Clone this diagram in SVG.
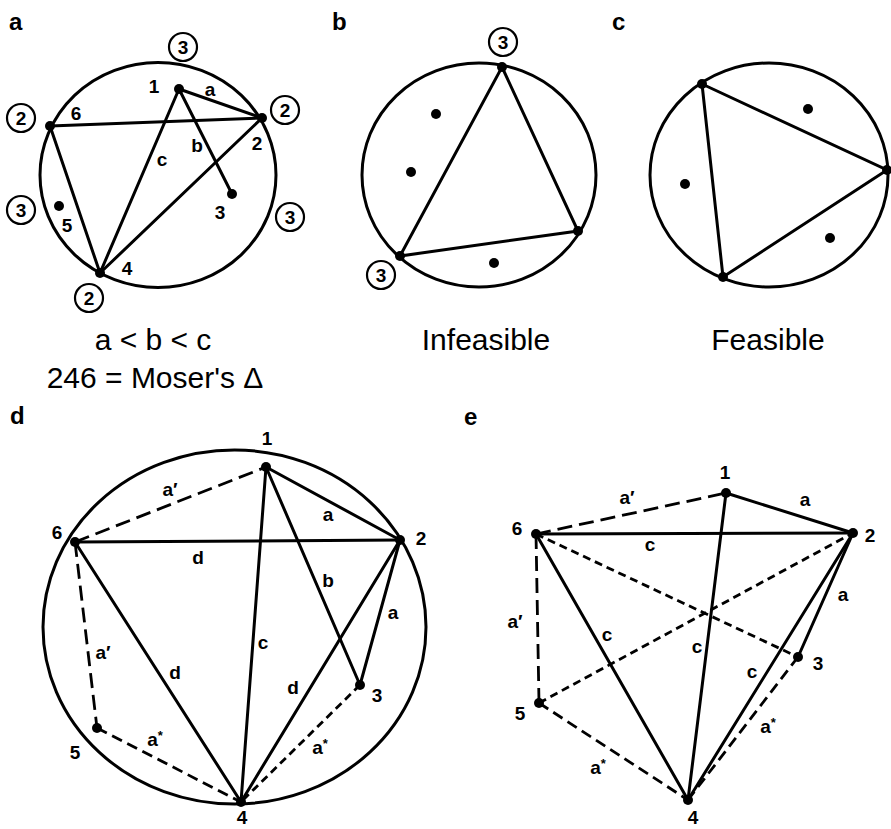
<svg xmlns="http://www.w3.org/2000/svg" width="891" height="829" viewBox="0 0 891 829">
<style>
.bg{fill:#fff}
.ring{fill:none;stroke:#000;stroke-width:3}
.e{stroke:#000;stroke-width:3;fill:none;stroke-linecap:round}
.dl{stroke:#000;stroke-width:2.8;fill:none;stroke-dasharray:15 7}
.dm{stroke:#000;stroke-width:2.8;fill:none;stroke-dasharray:11 6}
.ds{stroke:#000;stroke-width:2.8;fill:none;stroke-dasharray:8 5}
.n{fill:#000}
.t{font-family:"Liberation Sans",Arial,sans-serif;font-size:19px;fill:#000;text-anchor:middle;font-weight:bold}
.p{font-family:"Liberation Sans",Arial,sans-serif;font-size:24px;fill:#000;font-weight:bold}
.cap{font-family:"Liberation Sans",Arial,sans-serif;font-size:30px;fill:#000;text-anchor:middle}
.cn{fill:none;stroke:#000;stroke-width:2.2}
.sup{font-size:13px}
</style>
<rect class="bg" width="891" height="829"/>

<!-- Panel a -->
<g id="panel-a">
<text class="p" x="9" y="30">a</text>
<ellipse class="ring" cx="158" cy="175" rx="118" ry="112.5"/>
<g id="a-edges">
<line class="e" x1="179" y1="89" x2="262" y2="118"/>
<line class="e" x1="179" y1="89" x2="232" y2="194"/>
<line class="e" x1="179" y1="89" x2="100" y2="273"/>
<line class="e" x1="50" y1="126" x2="262" y2="118"/>
<line class="e" x1="50" y1="126" x2="100" y2="273"/>
<line class="e" x1="262" y1="118" x2="100" y2="273"/>
</g>
<g id="a-n1"><circle class="n" cx="179" cy="89" r="5"/><text class="t" x="154" y="93">1</text></g>
<g id="a-n2"><circle class="n" cx="262" cy="118" r="5"/><text class="t" x="257" y="150">2</text></g>
<g id="a-n3"><circle class="n" cx="232" cy="194" r="5"/><text class="t" x="220" y="219">3</text></g>
<g id="a-n4"><circle class="n" cx="100" cy="273" r="5"/><text class="t" x="127" y="275">4</text></g>
<g id="a-n5"><circle class="n" cx="59" cy="206" r="5"/><text class="t" x="67" y="232">5</text></g>
<g id="a-n6"><circle class="n" cx="50" cy="126" r="5"/><text class="t" x="76" y="120">6</text></g>
<text class="t" x="210" y="96">a</text>
<text class="t" x="197" y="152">b</text>
<text class="t" x="162" y="166">c</text>
<g id="a-c1"><circle class="cn" cx="183" cy="47" r="14"/><text class="t" x="183" y="54">3</text></g>
<g id="a-c2"><circle class="cn" cx="21" cy="118" r="14"/><text class="t" x="21" y="125">2</text></g>
<g id="a-c3"><circle class="cn" cx="285" cy="110" r="14"/><text class="t" x="285" y="117">2</text></g>
<g id="a-c4"><circle class="cn" cx="21" cy="210" r="14"/><text class="t" x="21" y="217">3</text></g>
<g id="a-c5"><circle class="cn" cx="290" cy="217" r="14"/><text class="t" x="290" y="224">3</text></g>
<g id="a-c6"><circle class="cn" cx="89" cy="298" r="14"/><text class="t" x="89" y="305">2</text></g>
<text class="cap" x="153" y="350">a &lt; b &lt; c</text>
<text class="cap" x="155" y="388">246 = Moser's Δ</text>
</g>

<!-- Panel b -->
<g id="panel-b">
<text class="p" x="332" y="30">b</text>
<ellipse class="ring" cx="479" cy="175" rx="117" ry="112"/>
<g id="b-edges">
<polygon class="e" points="502,67 578,231 400,256"/>
</g>
<circle class="n" cx="502" cy="67" r="5"/>
<circle class="n" cx="578" cy="231" r="5"/>
<circle class="n" cx="400" cy="256" r="5"/>
<circle class="n" cx="436" cy="114" r="5"/>
<circle class="n" cx="411" cy="172" r="5"/>
<circle class="n" cx="494" cy="263" r="5"/>
<g id="b-c1"><circle class="cn" cx="503" cy="42" r="14"/><text class="t" x="503" y="49">3</text></g>
<g id="b-c2"><circle class="cn" cx="381" cy="275" r="14"/><text class="t" x="381" y="282">3</text></g>
<text class="cap" x="486" y="350">Infeasible</text>
</g>

<!-- Panel c -->
<g id="panel-c">
<text class="p" x="612" y="30">c</text>
<ellipse class="ring" cx="769" cy="175" rx="119" ry="112"/>
<g id="c-edges">
<polygon class="e" points="702,84 887,170 723,277"/>
</g>
<circle class="n" cx="702" cy="84" r="5"/>
<circle class="n" cx="887" cy="170" r="5"/>
<circle class="n" cx="723" cy="277" r="5"/>
<circle class="n" cx="808" cy="109" r="5"/>
<circle class="n" cx="685" cy="184" r="5"/>
<circle class="n" cx="830" cy="238" r="5"/>
<text class="cap" x="768" y="350">Feasible</text>
</g>

<!-- Panel d -->
<g id="panel-d">
<text class="p" x="10" y="424">d</text>
<ellipse class="ring" cx="234.5" cy="627" rx="191.5" ry="177"/>
<g id="d-edges">
<line class="e" x1="266" y1="467" x2="400" y2="540"/>
<line class="e" x1="266" y1="467" x2="360" y2="685"/>
<line class="e" x1="266" y1="467" x2="241" y2="802"/>
<line class="e" x1="75" y1="542" x2="400" y2="540"/>
<line class="e" x1="75" y1="542" x2="241" y2="802"/>
<line class="e" x1="400" y1="540" x2="241" y2="802"/>
<line class="e" x1="400" y1="540" x2="360" y2="685"/>
<line class="dl" x1="75" y1="542" x2="266" y2="467"/>
<line class="dl" x1="75" y1="542" x2="97" y2="728"/>
<line class="dm" x1="97" y1="728" x2="241" y2="802"/>
<line class="ds" x1="360" y1="685" x2="241" y2="802"/>
</g>
<g id="d-n1"><circle class="n" cx="266" cy="467" r="5"/><text class="t" x="267" y="445">1</text></g>
<g id="d-n2"><circle class="n" cx="400" cy="540" r="5"/><text class="t" x="421" y="545">2</text></g>
<g id="d-n3"><circle class="n" cx="360" cy="685" r="5"/><text class="t" x="377" y="702">3</text></g>
<g id="d-n4"><circle class="n" cx="241" cy="802" r="5"/><text class="t" x="242" y="824">4</text></g>
<g id="d-n5"><circle class="n" cx="97" cy="728" r="5"/><text class="t" x="75" y="759">5</text></g>
<g id="d-n6"><circle class="n" cx="75" cy="542" r="5"/><text class="t" x="57" y="539">6</text></g>
<text class="t" x="170" y="496">a′</text>
<text class="t" x="328" y="521">a</text>
<text class="t" x="198" y="564">d</text>
<text class="t" x="328" y="587">b</text>
<text class="t" x="393" y="619">a</text>
<text class="t" x="263" y="649">c</text>
<text class="t" x="175" y="679">d</text>
<text class="t" x="293" y="694">d</text>
<text class="t" x="103" y="659">a′</text>
<text class="t" x="155" y="746">a<tspan class="sup" dy="-6">*</tspan></text>
<text class="t" x="320" y="754">a<tspan class="sup" dy="-6">*</tspan></text>
</g>

<!-- Panel e -->
<g id="panel-e">
<text class="p" x="464" y="425">e</text>
<g id="e-edges">
<line class="e" x1="726" y1="493" x2="853" y2="533"/>
<line class="e" x1="536" y1="534" x2="853" y2="533"/>
<line class="e" x1="726" y1="493" x2="688" y2="800"/>
<line class="e" x1="536" y1="534" x2="688" y2="800"/>
<line class="e" x1="853" y1="533" x2="688" y2="800"/>
<line class="e" x1="853" y1="533" x2="798" y2="657"/>
<line class="dl" x1="536" y1="534" x2="726" y2="493"/>
<line class="dl" x1="536" y1="534" x2="539" y2="703"/>
<line class="ds" x1="536" y1="534" x2="798" y2="657"/>
<line class="ds" x1="539" y1="703" x2="853" y2="533"/>
<line class="dm" x1="539" y1="703" x2="688" y2="800"/>
<line class="dm" x1="798" y1="657" x2="688" y2="800"/>
</g>
<g id="e-n1"><circle class="n" cx="726" cy="493" r="5"/><text class="t" x="725" y="479">1</text></g>
<g id="e-n2"><circle class="n" cx="853" cy="533" r="5"/><text class="t" x="870" y="542">2</text></g>
<g id="e-n3"><circle class="n" cx="798" cy="657" r="5"/><text class="t" x="818" y="670">3</text></g>
<g id="e-n4"><circle class="n" cx="688" cy="800" r="5"/><text class="t" x="693" y="824">4</text></g>
<g id="e-n5"><circle class="n" cx="539" cy="703" r="5"/><text class="t" x="520" y="720">5</text></g>
<g id="e-n6"><circle class="n" cx="536" cy="534" r="5"/><text class="t" x="517" y="535">6</text></g>
<text class="t" x="627" y="504">a′</text>
<text class="t" x="805" y="506">a</text>
<text class="t" x="650" y="551">c</text>
<text class="t" x="843" y="601">a</text>
<text class="t" x="515" y="628">a′</text>
<text class="t" x="607" y="641">c</text>
<text class="t" x="697" y="653">c</text>
<text class="t" x="752" y="678">c</text>
<text class="t" x="768" y="733">a<tspan class="sup" dy="-6">*</tspan></text>
<text class="t" x="598" y="774">a<tspan class="sup" dy="-6">*</tspan></text>
</g>
</svg>
